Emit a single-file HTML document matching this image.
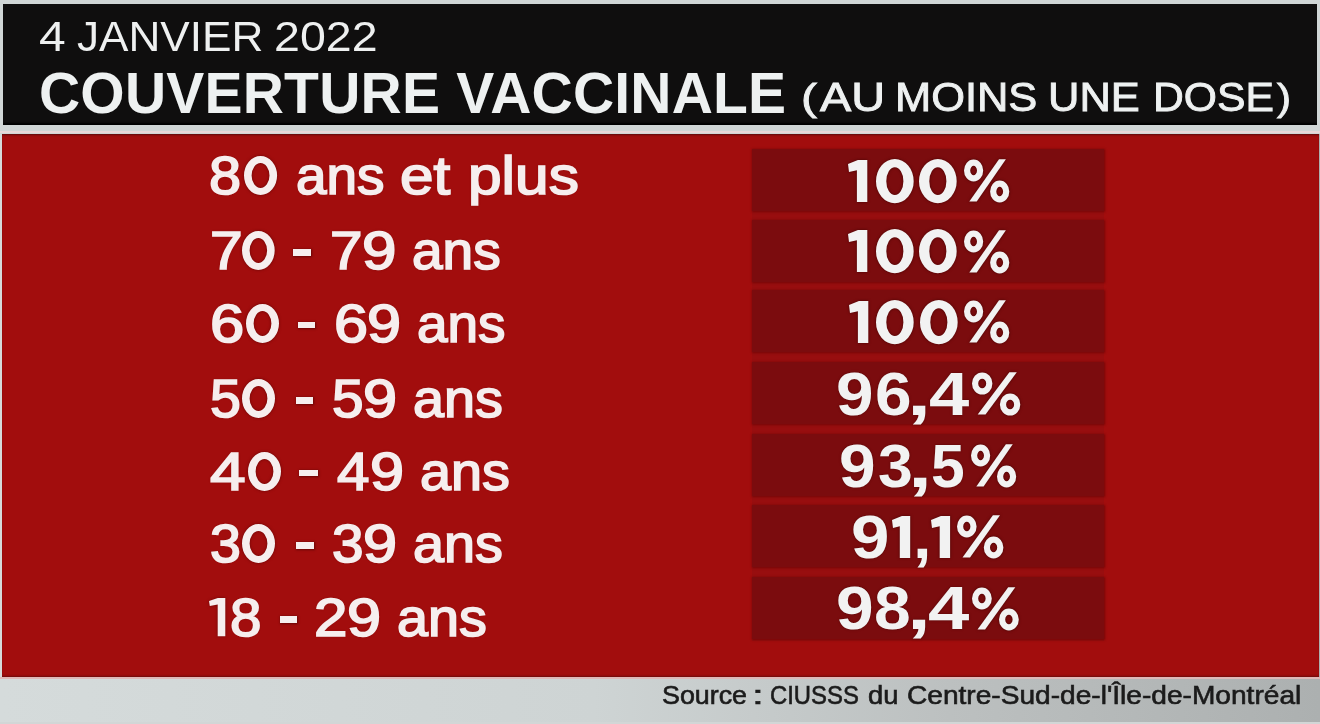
<!DOCTYPE html>
<html>
<head>
<meta charset="utf-8">
<style>
html,body{margin:0;padding:0;}
body{width:1320px;height:724px;overflow:hidden;position:relative;background:linear-gradient(90deg,#d5dbdb 0%,#ced4d4 45%,#bcc0c0 72%,#acb0b0 100%);font-family:"Liberation Sans",sans-serif;}
.top{position:absolute;left:0;top:0;width:1320px;height:134px;background:#d0d6d6;}
.hdr{position:absolute;left:3px;top:4px;width:1314px;height:121px;background:#0f0e0e;box-shadow:inset 0 -3px 2px -1px #000;}
.red{position:absolute;left:2px;top:134px;width:1317px;height:543px;background:#a20d0d;box-shadow:inset 0 2px 2px -1px #5a0c0c, inset 0 -2px 2px -1px #6a0c0c;}
.pk1{position:absolute;left:0;top:131px;width:1320px;height:2px;background:#e8d8d8;}
.bot{position:absolute;left:0;top:721.5px;width:1320px;height:3px;background:#d2d6d6;}
.pk2{position:absolute;left:0;top:677px;width:1320px;height:2px;background:#e0b8b8;}
.col{position:absolute;left:752px;width:352px;top:149px;height:492px;background:#980e0f;}
.box{position:absolute;left:752px;width:352px;height:62px;background:#7b0c0e;box-shadow:0 0 2px 0.5px rgba(110,6,6,.85);}
.t{position:absolute;white-space:nowrap;line-height:1;}
.s1{position:absolute;overflow:visible;filter:drop-shadow(0 0 1.5px rgba(60,0,0,.8));}
.lg{position:absolute;line-height:1;white-space:nowrap;font-size:56px;color:#f6eeee;-webkit-text-stroke:1.3px #f6eeee;transform-origin:0 0;text-shadow:0 0 2px rgba(80,0,0,.7);}
.dash{position:absolute;height:6.5px;background:#f6eeee;box-shadow:0 0 2px 0.5px rgba(80,0,0,.7);}
.s2{position:absolute;overflow:visible;filter:drop-shadow(0 0 1.5px rgba(80,0,0,.7));}
.g{position:absolute;line-height:1;font-size:60px;font-weight:700;color:#f2f2f2;transform-origin:0 0;text-shadow:0 0 2px rgba(60,0,0,.7);}
</style>
</head>
<body>
<div class="top"></div>
<div class="hdr"></div>
<div class="pk1"></div>
<div class="pk2"></div>
<div class="bot"></div>
<div class="red"></div>
<div class="col"></div>
<div class="box" style="top:149px"></div>
<div class="box" style="top:219.6px"></div>
<div class="box" style="top:290.3px"></div>
<div class="box" style="top:361.8px"></div>
<div class="box" style="top:433.8px"></div>
<div class="box" style="top:505px"></div>
<div class="box" style="top:576.5px"></div>
<div class="t" style="left:39.0px;top:64.5px;font-size:57px;font-weight:700;letter-spacing:0.21px;color:#eef1f1;">COUVERTURE VACCINALE</div>
<svg class="s1" style="left:848.4px;top:159.5px" width="19.3" height="42.0" viewBox="0 0 19.3 42.0"><polygon points="0.0,3.9 9.9,0.0 19.3,0.0 19.3,42.0 8.9,42.0 8.9,10.2 1.0,12.0" fill="#f2f2f2"/></svg>
<svg class="s1" style="left:875.5px;top:158.5px" width="37.7" height="44.3" viewBox="0 0 37.7 44.3"><path d="M0,22.15A18.85,22.15 0 1,0 37.70,22.15A18.85,22.15 0 1,0 0,22.15Z M10.30,22.15A8.55,13.95 0 1,0 27.40,22.15A8.55,13.95 0 1,0 10.30,22.15Z" fill="#f2f2f2" fill-rule="evenodd"/></svg>
<svg class="s1" style="left:919.0px;top:158.5px" width="37.7" height="44.3" viewBox="0 0 37.7 44.3"><path d="M0,22.15A18.85,22.15 0 1,0 37.70,22.15A18.85,22.15 0 1,0 0,22.15Z M10.30,22.15A8.55,13.95 0 1,0 27.40,22.15A8.55,13.95 0 1,0 10.30,22.15Z" fill="#f2f2f2" fill-rule="evenodd"/></svg>
<svg class="s1" style="left:963.5px;top:158.9px" width="45.5" height="43.5" viewBox="0 0 45.5 43.5"><g fill="none" stroke="#f2f2f2" stroke-width="6.2"><ellipse cx="9.6" cy="11.5" rx="6.5" ry="7.9"/><ellipse cx="35.7" cy="32.5" rx="6.5" ry="7.9"/></g><polygon points="5.3,42.5 12.7,42.5 41.9,0.3 35.0,0.3" fill="#f2f2f2"/></svg>
<svg class="s1" style="left:848.4px;top:230.1px" width="19.3" height="42.0" viewBox="0 0 19.3 42.0"><polygon points="0.0,3.9 9.9,0.0 19.3,0.0 19.3,42.0 8.9,42.0 8.9,10.2 1.0,12.0" fill="#f2f2f2"/></svg>
<svg class="s1" style="left:875.5px;top:229.1px" width="37.7" height="44.3" viewBox="0 0 37.7 44.3"><path d="M0,22.15A18.85,22.15 0 1,0 37.70,22.15A18.85,22.15 0 1,0 0,22.15Z M10.30,22.15A8.55,13.95 0 1,0 27.40,22.15A8.55,13.95 0 1,0 10.30,22.15Z" fill="#f2f2f2" fill-rule="evenodd"/></svg>
<svg class="s1" style="left:919.0px;top:229.1px" width="37.7" height="44.3" viewBox="0 0 37.7 44.3"><path d="M0,22.15A18.85,22.15 0 1,0 37.70,22.15A18.85,22.15 0 1,0 0,22.15Z M10.30,22.15A8.55,13.95 0 1,0 27.40,22.15A8.55,13.95 0 1,0 10.30,22.15Z" fill="#f2f2f2" fill-rule="evenodd"/></svg>
<svg class="s1" style="left:963.5px;top:229.5px" width="45.5" height="43.5" viewBox="0 0 45.5 43.5"><g fill="none" stroke="#f2f2f2" stroke-width="6.2"><ellipse cx="9.6" cy="11.5" rx="6.5" ry="7.9"/><ellipse cx="35.7" cy="32.5" rx="6.5" ry="7.9"/></g><polygon points="5.3,42.5 12.7,42.5 41.9,0.3 35.0,0.3" fill="#f2f2f2"/></svg>
<svg class="s1" style="left:848.9px;top:300.9px" width="19.3" height="42.0" viewBox="0 0 19.3 42.0"><polygon points="0.0,3.9 9.9,0.0 19.3,0.0 19.3,42.0 8.9,42.0 8.9,10.2 1.0,12.0" fill="#f2f2f2"/></svg>
<svg class="s1" style="left:876.0px;top:299.9px" width="37.7" height="44.3" viewBox="0 0 37.7 44.3"><path d="M0,22.15A18.85,22.15 0 1,0 37.70,22.15A18.85,22.15 0 1,0 0,22.15Z M10.30,22.15A8.55,13.95 0 1,0 27.40,22.15A8.55,13.95 0 1,0 10.30,22.15Z" fill="#f2f2f2" fill-rule="evenodd"/></svg>
<svg class="s1" style="left:919.5px;top:299.9px" width="37.7" height="44.3" viewBox="0 0 37.7 44.3"><path d="M0,22.15A18.85,22.15 0 1,0 37.70,22.15A18.85,22.15 0 1,0 0,22.15Z M10.30,22.15A8.55,13.95 0 1,0 27.40,22.15A8.55,13.95 0 1,0 10.30,22.15Z" fill="#f2f2f2" fill-rule="evenodd"/></svg>
<svg class="s1" style="left:964.0px;top:300.2px" width="45.5" height="43.5" viewBox="0 0 45.5 43.5"><g fill="none" stroke="#f2f2f2" stroke-width="6.2"><ellipse cx="9.6" cy="11.5" rx="6.5" ry="7.9"/><ellipse cx="35.7" cy="32.5" rx="6.5" ry="7.9"/></g><polygon points="5.3,42.5 12.7,42.5 41.9,0.3 35.0,0.3" fill="#f2f2f2"/></svg>
<div class="g" style="left:836.1px;top:363.7px;transform:scale(1.124,1.012)">9</div>
<div class="g" style="left:874.8px;top:363.7px;transform:scale(1.097,1.012)">6</div>
<div class="g" style="left:907.2px;top:363.7px;transform:scale(1.444,1.012)">,</div>
<div class="g" style="left:928.8px;top:363.7px;transform:scale(1.206,1.012)">4</div>
<svg class="s1" style="left:972.4px;top:371.8px" width="48.6" height="43.5" viewBox="0 0 48.6 43.5"><g fill="none" stroke="#f2f2f2" stroke-width="6.2"><ellipse cx="10.2" cy="11.5" rx="7.1" ry="7.9"/><ellipse cx="38.1" cy="32.5" rx="7.1" ry="7.9"/></g><polygon points="5.7,42.5 13.5,42.5 44.8,0.3 37.4,0.3" fill="#f2f2f2"/></svg>
<div class="g" style="left:839.2px;top:435.7px;transform:scale(1.097,1.012)">9</div>
<div class="g" style="left:878.0px;top:435.7px;transform:scale(1.043,1.012)">3</div>
<div class="g" style="left:908.2px;top:435.7px;transform:scale(1.444,1.012)">,</div>
<div class="g" style="left:931.0px;top:435.7px;transform:scale(1.010,1.012)">5</div>
<svg class="s1" style="left:971.0px;top:443.8px" width="45.4" height="43.5" viewBox="0 0 45.4 43.5"><g fill="none" stroke="#f2f2f2" stroke-width="6.2"><ellipse cx="9.6" cy="11.5" rx="6.5" ry="7.9"/><ellipse cx="35.6" cy="32.5" rx="6.5" ry="7.9"/></g><polygon points="5.3,42.5 12.6,42.5 41.8,0.3 34.9,0.3" fill="#f2f2f2"/></svg>
<div class="g" style="left:851.3px;top:506.9px;transform:scale(1.152,1.012)">9</div>
<svg class="s1" style="left:891.8px;top:515.6px" width="18.2" height="42.0" viewBox="0 0 18.2 42.0"><polygon points="0.0,3.9 9.9,0.0 18.2,0.0 18.2,42.0 7.8,42.0 7.8,10.2 1.0,12.0" fill="#f2f2f2"/></svg>
<div class="g" style="left:912.6px;top:506.9px;transform:scale(1.111,1.012)">,</div>
<svg class="s1" style="left:930.7px;top:515.6px" width="19.1" height="42.0" viewBox="0 0 19.1 42.0"><polygon points="0.0,3.9 9.9,0.0 19.1,0.0 19.1,42.0 8.7,42.0 8.7,10.2 1.0,12.0" fill="#f2f2f2"/></svg>
<svg class="s1" style="left:957.0px;top:515.0px" width="46.6" height="43.5" viewBox="0 0 46.6 43.5"><g fill="none" stroke="#f2f2f2" stroke-width="6.2"><ellipse cx="9.8" cy="11.5" rx="6.7" ry="7.9"/><ellipse cx="36.6" cy="32.5" rx="6.7" ry="7.9"/></g><polygon points="5.5,42.5 13.0,42.5 43.0,0.3 35.9,0.3" fill="#f2f2f2"/></svg>
<div class="g" style="left:836.0px;top:578.4px;transform:scale(1.128,1.012)">9</div>
<div class="g" style="left:873.8px;top:578.4px;transform:scale(1.100,1.012)">8</div>
<div class="g" style="left:906.9px;top:578.4px;transform:scale(1.433,1.012)">,</div>
<div class="g" style="left:927.8px;top:578.4px;transform:scale(1.238,1.012)">4</div>
<svg class="s1" style="left:972.4px;top:586.5px" width="47.0" height="43.5" viewBox="0 0 47.0 43.5"><g fill="none" stroke="#f2f2f2" stroke-width="6.2"><ellipse cx="9.9" cy="11.5" rx="6.8" ry="7.9"/><ellipse cx="36.9" cy="32.5" rx="6.8" ry="7.9"/></g><polygon points="5.5,42.5 13.1,42.5 43.3,0.3 36.2,0.3" fill="#f2f2f2"/></svg>
<div class="lg" style="left:209.4px;top:148.6px;font-size:53px;font-weight:400;-webkit-text-stroke-width:1.7px;transform:scaleX(1.089)">8</div>
<svg class="s2" style="left:244.4px;top:155.6px" width="33.1" height="39.0" viewBox="0 0 33.1 39.0"><path d="M0,19.50A16.55,19.50 0 1,0 33.10,19.50A16.55,19.50 0 1,0 0,19.50Z M7.60,19.50A8.95,12.50 0 1,0 25.50,19.50A8.95,12.50 0 1,0 7.60,19.50Z" fill="#f6eeee" fill-rule="evenodd"/></svg>
<div class="lg" style="left:296.0px;top:148.6px;font-size:53px;font-weight:400;-webkit-text-stroke-width:1.7px;transform:scaleX(1.036)">ans</div>
<div class="lg" style="left:400.4px;top:148.6px;font-size:53px;font-weight:400;-webkit-text-stroke-width:1.7px;transform:scaleX(1.136)">et</div>
<div class="lg" style="left:467.6px;top:148.6px;font-size:53px;font-weight:400;-webkit-text-stroke-width:1.7px;transform:scaleX(1.140)">plus</div>
<div class="lg" style="left:209.6px;top:224.3px;font-size:53px;font-weight:400;-webkit-text-stroke-width:1.7px;transform:scaleX(1.108)">7</div>
<svg class="s2" style="left:242.0px;top:231.3px" width="32.7" height="39.0" viewBox="0 0 32.7 39.0"><path d="M0,19.50A16.35,19.50 0 1,0 32.70,19.50A16.35,19.50 0 1,0 0,19.50Z M7.60,19.50A8.75,12.50 0 1,0 25.10,19.50A8.75,12.50 0 1,0 7.60,19.50Z" fill="#f6eeee" fill-rule="evenodd"/></svg>
<div class="dash" style="left:293.3px;top:249.3px;width:18.2px"></div>
<div class="lg" style="left:330.1px;top:224.3px;font-size:53px;font-weight:400;-webkit-text-stroke-width:1.7px;transform:scaleX(1.104)">7</div>
<div class="lg" style="left:361.7px;top:224.3px;font-size:53px;font-weight:400;-webkit-text-stroke-width:1.7px;transform:scaleX(1.169)">9</div>
<div class="lg" style="left:412.3px;top:224.3px;font-size:53px;font-weight:400;-webkit-text-stroke-width:1.7px;transform:scaleX(1.037)">ans</div>
<div class="lg" style="left:209.8px;top:296.5px;font-size:53px;font-weight:400;-webkit-text-stroke-width:1.7px;transform:scaleX(1.162)">6</div>
<svg class="s2" style="left:245.8px;top:303.5px" width="33.0" height="39.0" viewBox="0 0 33.0 39.0"><path d="M0,19.50A16.50,19.50 0 1,0 33.00,19.50A16.50,19.50 0 1,0 0,19.50Z M7.60,19.50A8.90,12.50 0 1,0 25.40,19.50A8.90,12.50 0 1,0 7.60,19.50Z" fill="#f6eeee" fill-rule="evenodd"/></svg>
<div class="dash" style="left:298.2px;top:321.5px;width:17.0px"></div>
<div class="lg" style="left:333.5px;top:296.5px;font-size:53px;font-weight:400;-webkit-text-stroke-width:1.7px;transform:scaleX(1.154)">6</div>
<div class="lg" style="left:366.5px;top:296.5px;font-size:53px;font-weight:400;-webkit-text-stroke-width:1.7px;transform:scaleX(1.154)">9</div>
<div class="lg" style="left:417.2px;top:296.5px;font-size:53px;font-weight:400;-webkit-text-stroke-width:1.7px;transform:scaleX(1.036)">ans</div>
<div class="lg" style="left:209.9px;top:372.0px;font-size:53px;font-weight:400;-webkit-text-stroke-width:1.7px;transform:scaleX(1.048)">5</div>
<svg class="s2" style="left:242.2px;top:379.0px" width="33.0" height="39.0" viewBox="0 0 33.0 39.0"><path d="M0,19.50A16.50,19.50 0 1,0 33.00,19.50A16.50,19.50 0 1,0 0,19.50Z M7.60,19.50A8.90,12.50 0 1,0 25.40,19.50A8.90,12.50 0 1,0 7.60,19.50Z" fill="#f6eeee" fill-rule="evenodd"/></svg>
<div class="dash" style="left:295.8px;top:397.0px;width:16.9px"></div>
<div class="lg" style="left:332.2px;top:372.0px;font-size:53px;font-weight:400;-webkit-text-stroke-width:1.7px;transform:scaleX(1.070)">5</div>
<div class="lg" style="left:362.9px;top:372.0px;font-size:53px;font-weight:400;-webkit-text-stroke-width:1.7px;transform:scaleX(1.154)">9</div>
<div class="lg" style="left:413.4px;top:372.0px;font-size:53px;font-weight:400;-webkit-text-stroke-width:1.7px;transform:scaleX(1.052)">ans</div>
<div class="lg" style="left:209.7px;top:444.6px;font-size:53px;font-weight:400;-webkit-text-stroke-width:1.7px;transform:scaleX(1.207)">4</div>
<svg class="s2" style="left:248.2px;top:451.6px" width="33.0" height="39.0" viewBox="0 0 33.0 39.0"><path d="M0,19.50A16.50,19.50 0 1,0 33.00,19.50A16.50,19.50 0 1,0 0,19.50Z M7.60,19.50A8.90,12.50 0 1,0 25.40,19.50A8.90,12.50 0 1,0 7.60,19.50Z" fill="#f6eeee" fill-rule="evenodd"/></svg>
<div class="dash" style="left:299.4px;top:469.6px;width:18.2px"></div>
<div class="lg" style="left:337.0px;top:444.6px;font-size:53px;font-weight:400;-webkit-text-stroke-width:1.7px;transform:scaleX(1.100)">4</div>
<div class="lg" style="left:370.1px;top:444.6px;font-size:53px;font-weight:400;-webkit-text-stroke-width:1.7px;transform:scaleX(1.154)">9</div>
<div class="lg" style="left:419.5px;top:444.6px;font-size:53px;font-weight:400;-webkit-text-stroke-width:1.7px;transform:scaleX(1.052)">ans</div>
<div class="lg" style="left:209.9px;top:517.0px;font-size:53px;font-weight:400;-webkit-text-stroke-width:1.7px;transform:scaleX(1.048)">3</div>
<svg class="s2" style="left:242.2px;top:524.0px" width="33.0" height="39.0" viewBox="0 0 33.0 39.0"><path d="M0,19.50A16.50,19.50 0 1,0 33.00,19.50A16.50,19.50 0 1,0 0,19.50Z M7.60,19.50A8.90,12.50 0 1,0 25.40,19.50A8.90,12.50 0 1,0 7.60,19.50Z" fill="#f6eeee" fill-rule="evenodd"/></svg>
<div class="dash" style="left:295.8px;top:542.0px;width:18.2px"></div>
<div class="lg" style="left:332.2px;top:517.0px;font-size:53px;font-weight:400;-webkit-text-stroke-width:1.7px;transform:scaleX(1.070)">3</div>
<div class="lg" style="left:362.9px;top:517.0px;font-size:53px;font-weight:400;-webkit-text-stroke-width:1.7px;transform:scaleX(1.154)">9</div>
<div class="lg" style="left:413.4px;top:517.0px;font-size:53px;font-weight:400;-webkit-text-stroke-width:1.7px;transform:scaleX(1.052)">ans</div>
<svg class="s2" style="left:208.7px;top:598.4px" width="16.3" height="38.2" viewBox="0 0 16.3 38.2"><polygon points="0.0,3.1 8.8,0.0 16.3,0.0 16.3,38.2 8.7,38.2 8.7,6.4 0.8,7.9" fill="#f6eeee"/></svg>
<div class="lg" style="left:230.1px;top:591.0px;font-size:53px;font-weight:400;-webkit-text-stroke-width:1.7px;transform:scaleX(1.067)">8</div>
<div class="dash" style="left:280.0px;top:616.0px;width:17.0px"></div>
<div class="lg" style="left:314.1px;top:591.0px;font-size:53px;font-weight:400;-webkit-text-stroke-width:1.7px;transform:scaleX(1.135)">2</div>
<div class="lg" style="left:347.1px;top:591.0px;font-size:53px;font-weight:400;-webkit-text-stroke-width:1.7px;transform:scaleX(1.154)">9</div>
<div class="lg" style="left:396.5px;top:591.0px;font-size:53px;font-weight:400;-webkit-text-stroke-width:1.7px;transform:scaleX(1.051)">ans</div>
<div class="t" style="left:801.1px;top:78.7px;font-size:40.5px;color:#eef1f1;-webkit-text-stroke:0.9px #eef1f1;transform-origin:0 0;transform:scale(1.183,0.912)">(</div>
<div class="t" style="left:819.6px;top:77.2px;font-size:40.5px;color:#eef1f1;-webkit-text-stroke:0.9px #eef1f1;transform-origin:0 0;transform:scale(1.157,1.000)">AU</div>
<div class="t" style="left:895.0px;top:77.2px;font-size:40.5px;color:#eef1f1;-webkit-text-stroke:0.9px #eef1f1;transform-origin:0 0;transform:scale(1.072,1.000)">MOINS</div>
<div class="t" style="left:1048.4px;top:77.2px;font-size:40.5px;color:#eef1f1;-webkit-text-stroke:0.9px #eef1f1;transform-origin:0 0;transform:scale(1.073,1.000)">UNE</div>
<div class="t" style="left:1152.7px;top:77.2px;font-size:40.5px;color:#eef1f1;-webkit-text-stroke:0.9px #eef1f1;transform-origin:0 0;transform:scale(1.053,1.000)">DOSE</div>
<div class="t" style="left:1276.7px;top:78.7px;font-size:40.5px;color:#eef1f1;-webkit-text-stroke:0.9px #eef1f1;transform-origin:0 0;transform:scale(1.042,0.912)">)</div>
<div class="t" style="left:661.8px;top:683.2px;font-size:25px;color:#1b1b1b;-webkit-text-stroke:0.6px #1b1b1b;transform-origin:0 0;transform:scaleX(1.073)">Source</div>
<div class="t" style="left:752.3px;top:683.2px;font-size:25px;color:#1b1b1b;-webkit-text-stroke:0.6px #1b1b1b;transform-origin:0 0;transform:scaleX(1.700)">:</div>
<div class="t" style="left:770.0px;top:683.2px;font-size:25px;color:#1b1b1b;-webkit-text-stroke:0.6px #1b1b1b;transform-origin:0 0;transform:scaleX(0.954)">CIUSSS</div>
<div class="t" style="left:867.9px;top:683.2px;font-size:25px;color:#1b1b1b;-webkit-text-stroke:0.6px #1b1b1b;transform-origin:0 0;transform:scaleX(1.092)">du</div>
<div class="t" style="left:906.6px;top:683.2px;font-size:25px;color:#1b1b1b;-webkit-text-stroke:0.6px #1b1b1b;transform-origin:0 0;transform:scaleX(1.124)">Centre-Sud-de-l'Île-de-Montréal</div>
<div class="t" style="left:38.7px;top:14.8px;font-size:43px;color:#eef0f0;transform-origin:0 0;transform:scaleX(1.114)">4</div>
<div class="t" style="left:77.0px;top:14.8px;font-size:43px;color:#eef0f0;transform-origin:0 0;transform:scaleX(1.026)">JANVIER</div>
<div class="t" style="left:273.5px;top:14.8px;font-size:43px;color:#eef0f0;transform-origin:0 0;transform:scaleX(1.082)">2022</div>
</body>
</html>
